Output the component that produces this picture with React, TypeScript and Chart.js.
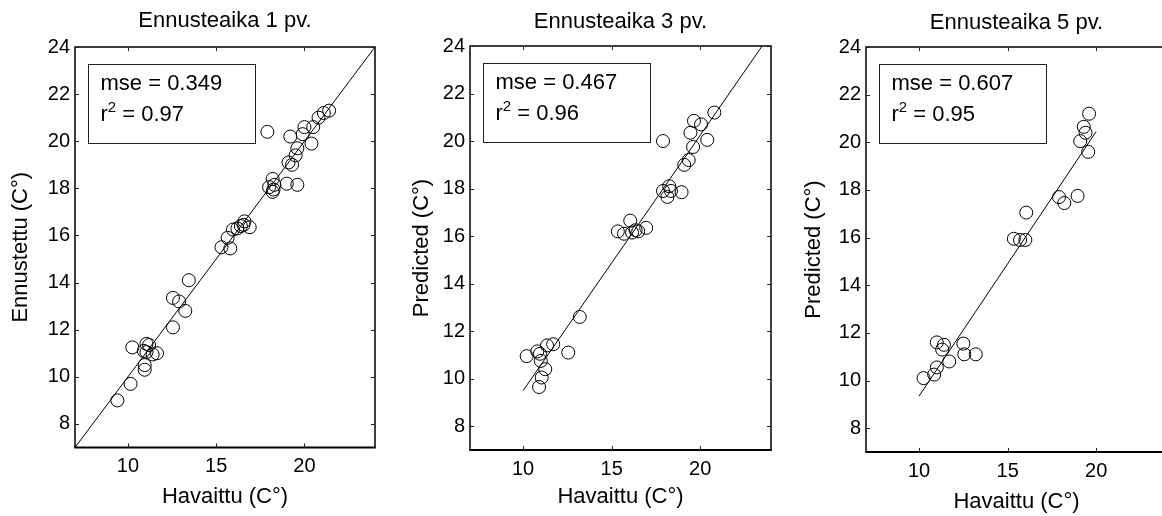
import React, { useEffect, useRef } from "react";
import { Chart, registerables } from "chart.js";

Chart.register(...registerables);

// ---------- data ----------
const TITLES = ["Ennusteaika 1 pv.", "Ennusteaika 3 pv.", "Ennusteaika 5 pv."];
const Y_LABELS = ["Ennustettu (C°)", "Predicted (C°)", "Predicted (C°)"];
const X_LABEL = "Havaittu (C°)";
const X_TICKS = [10, 15, 20];
const Y_TICKS = [8, 10, 12, 14, 16, 18, 20, 22, 24];
const AXIS_MIN = 7;
const AXIS_MAX = 24;
const MSE_TEXT = ["0.349", "0.467", "0.607"];
const R2_TEXT = ["0.97", "0.96", "0.95"];

// Panel 1 (1 day)
const P1_OBS = [17.9, 21.4, 21.1, 20.8, 20.5, 20.0, 20.4, 19.9, 19.2, 19.6, 19.5, 19.1, 19.3, 18.2, 18.0, 18.25, 18.3, 18.2, 19.0, 19.6, 16.6, 16.9, 16.4, 16.2, 15.95, 16.55, 15.65, 15.3, 15.8, 13.45, 12.55, 12.9, 13.25, 12.55, 10.25, 11.05, 11.2, 10.9, 11.05, 11.65, 11.4, 10.95, 10.95, 10.15, 9.4];
const P1_PRED = [20.4, 21.3, 21.2, 21.0, 20.6, 20.6, 19.9, 20.3, 20.2, 19.7, 19.4, 19.1, 19.0, 18.4, 18.05, 17.95, 18.15, 17.85, 18.2, 18.15, 16.6, 16.35, 16.4, 16.3, 16.25, 16.45, 15.9, 15.5, 15.45, 14.1, 13.35, 13.2, 12.8, 12.1, 11.25, 11.4, 11.35, 11.1, 11.05, 11.0, 10.95, 10.5, 10.3, 9.7, 9.0];
const P1_FIT_X = [7, 24];
const P1_FIT_Y = [7, 24];

// Panel 2 (3 days)
const P2_OBS = [17.9, 20.8, 19.65, 20.05, 19.45, 20.4, 19.6, 19.35, 19.1, 17.9, 18.25, 18.35, 18.15, 18.95, 16.05, 15.35, 15.7, 16.35, 16.95, 16.5, 16.15, 13.2, 12.55, 11.7, 11.35, 10.2, 10.8, 10.95, 11.0, 11.25, 11.05, 10.9];
const P2_PRED = [20.0, 21.2, 20.85, 20.7, 20.35, 20.05, 19.75, 19.2, 19.0, 17.9, 18.1, 17.9, 17.65, 17.85, 16.65, 16.2, 16.1, 16.25, 16.35, 16.2, 16.15, 12.6, 11.1, 11.45, 11.4, 10.95, 11.15, 11.05, 10.75, 10.4, 10.05, 9.65];
const P2_FIT_X = [10, 23.5];
const P2_FIT_Y = [9.5, 24];

// Panel 3 (5 days)
const P3_OBS = [19.6, 19.3, 19.4, 19.1, 19.55, 17.9, 18.2, 18.95, 16.05, 15.35, 15.7, 16.0, 11.0, 11.4, 11.3, 12.5, 12.55, 13.2, 11.7, 11.0, 10.85, 10.25];
const P3_PRED = [21.2, 20.65, 20.4, 20.05, 19.6, 17.7, 17.45, 17.75, 17.05, 15.95, 15.9, 15.9, 11.6, 11.5, 11.3, 11.55, 11.1, 11.1, 10.8, 10.55, 10.25, 10.1];
const P3_FIT_X = [10, 20];
const P3_FIT_Y = [9.35, 20.45];

const OBS = [P1_OBS, P2_OBS, P3_OBS];
const PRED = [P1_PRED, P2_PRED, P3_PRED];
const FIT_X = [P1_FIT_X, P2_FIT_X, P3_FIT_X];
const FIT_Y = [P1_FIT_Y, P2_FIT_Y, P3_FIT_Y];

// ---------- layout (pixels) ----------
const CANVAS_W = 1200;
const CANVAS_H = 516;
const FONT = "'Liberation Sans', Arial, Helvetica, sans-serif";
const AREAS = [
  { left: 75, right: 375, top: 47, bottom: 447.5, padTop: 8, padLeft: 8, yTitleBelow: 496.7 },
  { left: 470, right: 771, top: 46, bottom: 450, padTop: 9, padLeft: 409, yTitleBelow: 496.5 },
  { left: 866, right: 1167, top: 47, bottom: 452, padTop: 10, padLeft: 801, yTitleBelow: 502 },
];

function makePlugin(idx: number) {
  return {
    id: "matlabFrame" + idx,
    afterDraw(chart: any) {
      const ctx = chart.ctx as CanvasRenderingContext2D;
      const a = chart.chartArea;
      const xs = chart.scales.x;
      const ys = chart.scales.y;
      ctx.save();
      // frame
      ctx.strokeStyle = "#000";
      ctx.lineWidth = 1.5;
      ctx.beginPath();
      ctx.moveTo(a.left, a.bottom);
      ctx.lineTo(a.left, a.top);
      ctx.lineTo(a.right, a.top);
      ctx.lineTo(a.right, a.bottom);
      ctx.stroke();
      ctx.lineWidth = 2;
      ctx.beginPath();
      ctx.moveTo(a.left - 0.75, a.bottom);
      ctx.lineTo(a.right + 0.75, a.bottom);
      ctx.stroke();
      // inward ticks
      ctx.lineWidth = 1;
      ctx.strokeStyle = "#222";
      const TL = 4;
      ctx.beginPath();
      X_TICKS.forEach((v) => {
        const px = Math.round(xs.getPixelForValue(v)) + 0.5;
        ctx.moveTo(px, a.bottom);
        ctx.lineTo(px, a.bottom - TL);
        ctx.moveTo(px, a.top);
        ctx.lineTo(px, a.top + TL);
      });
      Y_TICKS.forEach((v) => {
        const py = Math.round(ys.getPixelForValue(v)) + 0.5;
        ctx.moveTo(a.left, py);
        ctx.lineTo(a.left + TL, py);
        ctx.moveTo(a.right, py);
        ctx.lineTo(a.right - TL, py);
      });
      ctx.stroke();
      // stats box
      const bx = Math.round(a.left + 13) + 0.5;
      const by = Math.round(a.top + 17) + 0.5;
      const bw = 167;
      const bh = 79;
      ctx.fillStyle = "#fff";
      ctx.fillRect(bx, by, bw, bh);
      ctx.strokeStyle = "#222";
      ctx.lineWidth = 1;
      ctx.strokeRect(bx, by, bw, bh);
      ctx.fillStyle = "#000";
      ctx.textBaseline = "alphabetic";
      ctx.textAlign = "left";
      ctx.font = `22px ${FONT}`;
      const tx = bx + 12;
      ctx.fillText("mse = " + MSE_TEXT[idx], tx, by + 25);
      const l2 = by + 56;
      ctx.fillText("r", tx, l2);
      const rw = ctx.measureText("r").width;
      ctx.font = `15px ${FONT}`;
      ctx.fillText("2", tx + rw, l2 - 9);
      const sw = ctx.measureText("2").width;
      ctx.font = `22px ${FONT}`;
      ctx.fillText(" = " + R2_TEXT[idx], tx + rw + sw, l2);
      ctx.restore();
    },
  };
}

function buildConfig(idx: number): any {
  const A = AREAS[idx];
  const titleLine = 22 * 1.2;
  const xAxisH = A.yTitleBelow + titleLine / 2 - A.bottom;
  const padBottom = CANVAS_H - A.bottom - xAxisH;
  const points = OBS[idx].map((x, i) => ({ x, y: PRED[idx][i] }));
  const fit = FIT_X[idx].map((x, i) => ({ x, y: FIT_Y[idx][i] }));
  const tickFont = { family: FONT, size: 20 };
  const labelFont = { family: FONT, size: 22 };
  return {
    type: "scatter",
    data: {
      datasets: [
        {
          data: points,
          pointStyle: "circle",
          pointRadius: 6.5,
          pointHoverRadius: 6.5,
          borderColor: "#000",
          backgroundColor: "rgba(0,0,0,0)",
          borderWidth: 1,
        },
        {
          data: fit,
          showLine: true,
          pointRadius: 0,
          pointHoverRadius: 0,
          borderColor: "#000",
          borderWidth: 1,
          fill: false,
        },
      ],
    },
    options: {
      animation: false,
      responsive: false,
      events: [],
      layout: {
        padding: {
          left: A.padLeft,
          right: CANVAS_W - A.right,
          top: A.padTop,
          bottom: padBottom,
        },
      },
      plugins: {
        legend: { display: false },
        tooltip: { enabled: false },
        title: {
          display: true,
          text: TITLES[idx],
          fullSize: false,
          color: "#000",
          font: { family: FONT, size: 22, weight: "normal" },
          padding: { top: 0, bottom: A.top - A.padTop - titleLine },
        },
      },
      scales: {
        x: {
          type: "linear",
          min: AXIS_MIN,
          max: AXIS_MAX,
          afterBuildTicks: (s: any) => {
            s.ticks = X_TICKS.map((v) => ({ value: v }));
          },
          afterFit: (s: any) => {
            s.height = xAxisH;
          },
          grid: { display: false, drawTicks: false },
          border: { display: false },
          ticks: { font: tickFont, color: "#000", padding: 7, maxRotation: 0, autoSkip: false },
          title: { display: true, text: X_LABEL, font: labelFont, color: "#000", padding: 0 },
        },
        y: {
          type: "linear",
          min: AXIS_MIN,
          max: AXIS_MAX,
          afterBuildTicks: (s: any) => {
            s.ticks = Y_TICKS.map((v) => ({ value: v }));
          },
          afterFit: (s: any) => {
            s.width = A.left - A.padLeft;
          },
          grid: { display: false, drawTicks: false },
          border: { display: false },
          ticks: { font: tickFont, color: "#000", padding: 5, autoSkip: false },
          title: { display: true, text: Y_LABELS[idx], font: labelFont, color: "#000", padding: 0 },
        },
      },
    },
    plugins: [makePlugin(idx)],
  };
}

export default function App() {
  const r0 = useRef<HTMLCanvasElement>(null);
  const r1 = useRef<HTMLCanvasElement>(null);
  const r2 = useRef<HTMLCanvasElement>(null);

  useEffect(() => {
    const refs = [r0, r1, r2];
    const charts = refs.map((r, i) => new Chart(r.current as HTMLCanvasElement, buildConfig(i)));
    return () => charts.forEach((c) => c.destroy());
  }, []);

  const cs: React.CSSProperties = { position: "absolute", left: 0, top: 0, width: CANVAS_W, height: CANVAS_H };
  return (
    <div style={{ position: "fixed", left: 0, top: 0, width: 1162, height: 516, overflow: "hidden", background: "#fff" }}>
      <canvas ref={r0} width={CANVAS_W} height={CANVAS_H} style={cs} />
      <canvas ref={r1} width={CANVAS_W} height={CANVAS_H} style={cs} />
      <canvas ref={r2} width={CANVAS_W} height={CANVAS_H} style={cs} />
    </div>
  );
}
